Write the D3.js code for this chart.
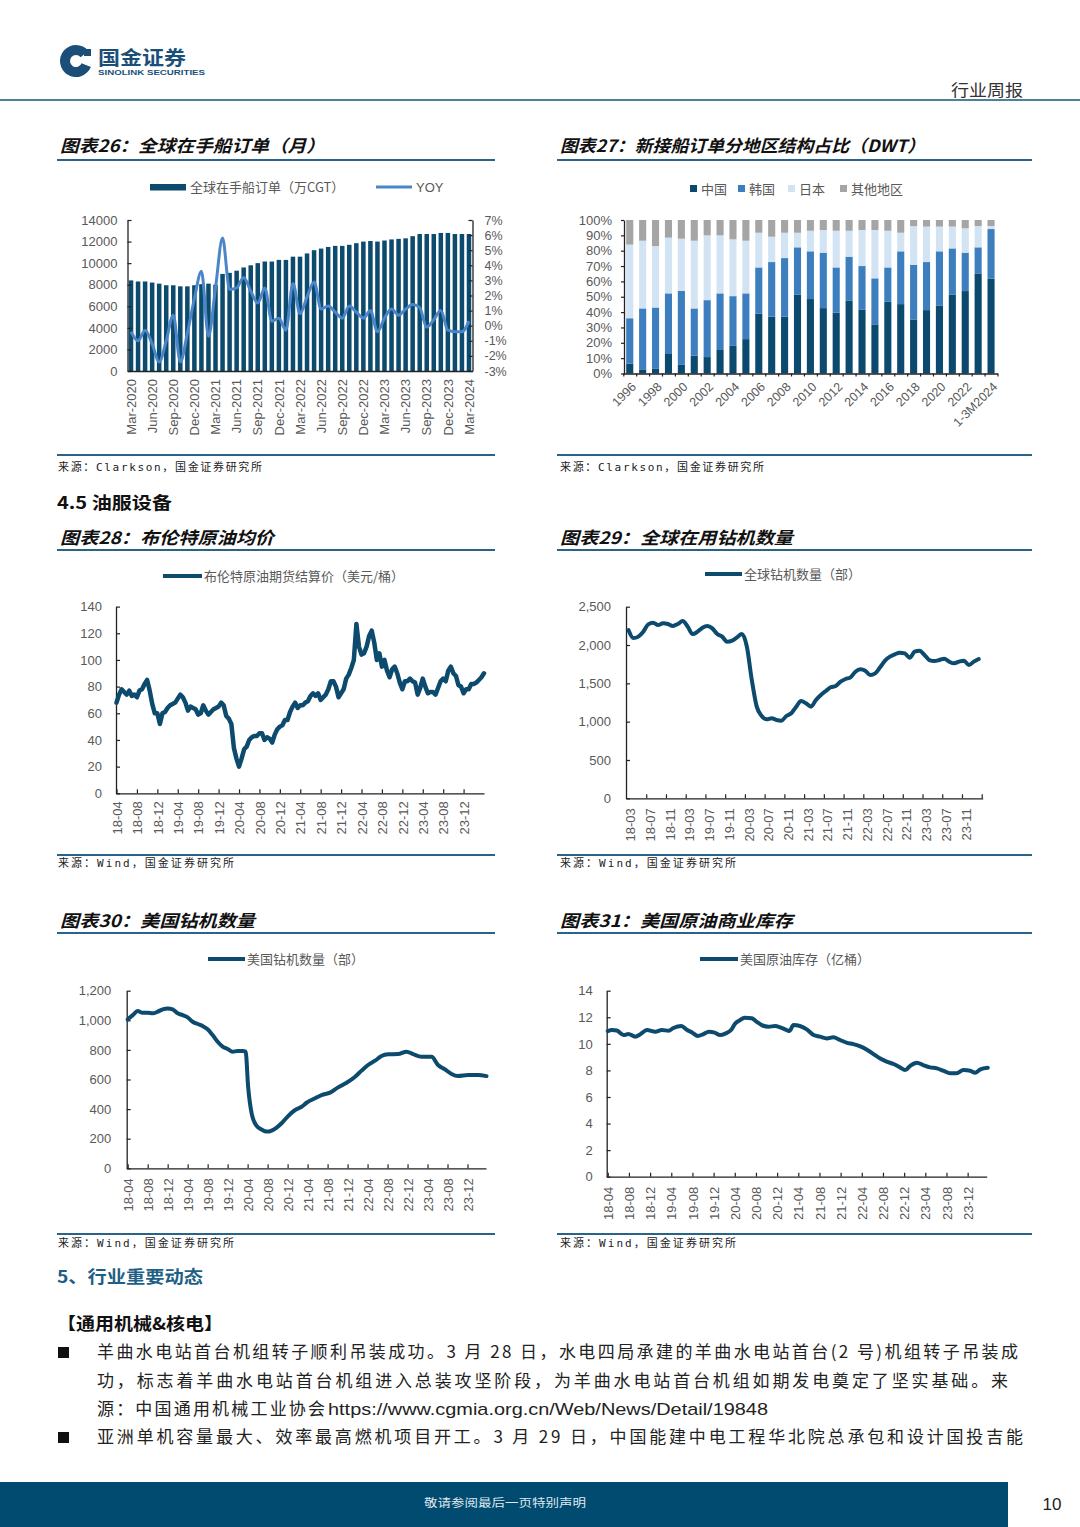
<!DOCTYPE html>
<html><head><meta charset="utf-8">
<script src="https://cdn.jsdelivr.net/npm/d3@7"></script>
<style>
body{margin:0;background:#fff;}
</style></head><body>
<svg id="page" width="1080" height="1527" xmlns="http://www.w3.org/2000/svg"></svg>
<script>
// ---------------- DATA ----------------
// Chart 26: global orderbook (万CGT) and YOY (%), monthly Mar-2020 .. Mar-2024
const orderbook = [8400,8300,8300,8200,8100,7950,7950,7850,7850,7950,8050,8100,8000,
 9000,9100,9300,9600,9800,10000,10150,10150,10300,10300,10600,10600,10900,11200,11350,11500,11600,11600,11700,11850,12000,12050,12000,12100,12200,12250,12300,12500,12700,12700,12700,12800,12800,12700,12700,12700];
const orderYoy = [-0.4,-1.0,-0.3,-1.2,-2.4,-1.0,0.7,-2.4,-0.5,1.8,3.6,-0.7,2.5,5.8,2.4,2.5,3.2,2.3,1.5,2.5,0.3,0.5,-0.3,2.8,0.8,1.9,2.9,1.1,1.3,0.9,0.5,1.3,0.9,0.5,1.0,-0.4,0.5,1.1,0.7,1.1,1.4,1.2,-0.1,0.4,1.0,-0.3,-0.4,-0.4,0.3];
const labels26 = ["Mar-2020","Jun-2020","Sep-2020","Dec-2020","Mar-2021","Jun-2021","Sep-2021","Dec-2021","Mar-2022","Jun-2022","Sep-2022","Dec-2022","Mar-2023","Jun-2023","Sep-2023","Dec-2023","Mar-2024"];
const leftTicks26 = [0,2000,4000,6000,8000,10000,12000,14000];
const rightTicks26 = [-3,-2,-1,0,1,2,3,4,5,6,7];

// Chart 27: new order share by region (%)
const years27 = ["1996","1997","1998","1999","2000","2001","2002","2003","2004","2005","2006","2007","2008","2009","2010","2011","2012","2013","2014","2015","2016","2017","2018","2019","2020","2021","2022","2023","1-3M2024"];
const china27 = [6.5,2.7,3.3,12.7,5.6,11.6,10.7,15.3,18,22.4,38.9,37,37,51.3,48.5,42.6,39.6,47.6,41.5,32,46.7,45.2,35.2,41.3,44.1,51.3,53.7,65.2,61.7];
const korea27 = [29.5,39.7,39.7,39.5,48.3,30.8,37.1,36.9,32.4,29.8,30.2,35.6,38.2,30.9,31.1,36.1,29.5,28.5,28.5,30,22.4,34.4,35.5,31.3,35.5,30.2,25,17,32.4];
const japan27 = [48,44.1,40,36.3,33.9,44.1,42.2,37.8,37,34.3,22.6,16.5,16.5,9.5,13.4,14.8,23.9,16.9,23.5,31.5,23.9,12.1,25.3,23.1,16.1,14.2,15.9,13.9,2];
const other27 = [16,13.5,17,11.5,12.2,13.5,10,10,12.6,13.5,8.3,10.9,8.3,8.3,7,6.5,7,7,6.5,6.5,7,8.3,4,4.3,4.3,4.3,5.4,3.9,3.9];
const labels27 = ["1996","1998","2000","2002","2004","2006","2008","2010","2012","2014","2016","2018","2020","2022","1-3M2024"];
const regions27 = ["中国","韩国","日本","其他地区"];

// Chart 28: Brent (USD/bbl), half-monthly from 2018-04
const brent = [68,74, 78,76, 74,77, 73,74, 72,77, 78,82, 85,77, 67,60, 60,52,
 60,61, 64,66, 67,68, 71,74, 72,68, 62,65, 64,63, 59,60, 66,62, 59,61, 63,64, 65,68,
 66,58, 56,52, 34,26, 20,26, 33,35, 40,42, 43,43, 45,45, 40,42, 41,38, 44,48, 50,51,
 55,55, 61,65, 68,64, 66,66, 68,69, 73,75, 73,75, 70,72, 74,78, 84,84, 80,72, 75,78,
 86,89, 94,100, 127,110, 104,105, 110,118, 122,113, 100,105, 95,100, 92,87, 93,95, 90,83, 78,84,
 84,86, 84,83, 74,79, 86,80, 75,76, 76,74, 79,84, 86,84, 92,95, 90,88, 81,80, 75,78,
 78,82, 82,83, 85,87, 90];
const labels28 = ["18-04","18-08","18-12","19-04","19-08","19-12","20-04","20-08","20-12","21-04","21-08","21-12","22-04","22-08","22-12","23-04","23-08","23-12"];

// Chart 29: global rig count, monthly from 2018-03
const globalRigs = [2196,2090,2110,2174,2270,2290,2260,2283,2274,2248,2274,2313,2240,2143,2174,2226,2248,2217,2143,2109,2043,2057,2100,2143,1978,1543,1196,1074,1030,1044,1022,1013,1074,1109,1196,1270,1239,1196,1283,1348,1400,1448,1465,1522,1557,1578,1652,1683,1665,1609,1630,1709,1796,1848,1878,1900,1891,1835,1913,1926,1870,1804,1791,1804,1822,1783,1761,1783,1796,1739,1783,1817];
const labels29 = ["18-03","18-07","18-11","19-03","19-07","19-11","20-03","20-07","20-11","21-03","21-07","21-11","22-03","22-07","22-11","23-03","23-07","23-11"];

// Chart 30: US rig count (months since 2018-04, value)
const usRigT = [0,1,2,3,4,5,6,7,8,9,10,11,12,13,14,15,16,17,18,19,20,21,22,23,23.6,24.1,24.8,25.8,26.8,27.8,28.8,29.8,30.8,32.1,33.5,34.8,35.8,37.5,38.8,40.5,42.1,43.8,45.5,46.8,48.1,49.5,50.8,52.1,54.1,55.8,57.1,58.8,60.8,62.1,63.5,64.8,66.1,68.1,70.1,71.8];
const usRigV = [1006,1035,1062,1051,1051,1047,1058,1074,1080,1074,1047,1035,1020,990,975,961,939,900,855,822,806,788,792,792,788,551,371,286,262,248,255,275,304,353,394,416,443,473,495,511,547,578,619,660,698,727,759,770,772,788,772,754,754,698,668,637,623,630,630,623];
const labels30 = labels28;

// Chart 31: US commercial crude stocks (亿桶), months since 2018-04
const usStockT = [0,0.8,1.7,3,3.9,5.2,6.1,7.4,9,10.2,11.5,12.4,13.9,15,16,17,18.1,19.1,20.2,21.2,22.3,23.3,24.1,24.8,25.9,27.2,28.1,29.1,30.4,31.6,32.6,33.5,34.3,35.1,36.3,37.6,38.9,40.1,41.4,42.6,43.9,45.1,46.4,47.6,48.9,50.2,51.4,52.7,54,55.2,56.2,57.1,58.4,59.6,60.9,62.2,63.4,64.7,65.9,67.2,68.5,69.4,70.4,71.8];
const usStockV = [10.96,11.04,11.0,10.66,10.74,10.54,10.71,11.04,10.91,11.04,10.99,11.19,11.34,11.04,10.84,10.59,10.74,10.91,10.84,10.66,10.79,11.04,11.54,11.74,11.97,11.92,11.67,11.41,11.29,11.34,11.24,11.09,10.96,11.41,11.34,11.09,10.66,10.54,10.41,10.49,10.29,10.09,9.98,9.83,9.58,9.23,8.91,8.66,8.48,8.23,8.03,8.33,8.58,8.40,8.23,8.15,7.98,7.78,7.78,8.03,7.98,7.83,8.08,8.20];
const labels31 = labels28;

// ---------------- STYLE ----------------
const CJKF = '"Noto Sans CJK SC","Liberation Sans",sans-serif';
const LATF = '"Liberation Sans","Noto Sans CJK SC",Arial,sans-serif';
const MONOF = '"DejaVu Sans Mono","Noto Sans CJK SC",monospace';
const GRAY = "#595959";
const NAVY = "#0c4a6e";
const MIDBLUE = "#4a86c8";
const RULE = "#2a6389";
const svg = d3.select("#page");

function styleAxis(g, fs){
  g.attr("font-family", LATF).attr("font-size", fs);
  g.select(".domain").attr("stroke","#222").attr("stroke-width",1.3);
  g.selectAll(".tick line").attr("stroke","#222").attr("stroke-width",1.2);
  g.selectAll(".tick text").attr("fill",GRAY);
}
function rot90(g, off){
  g.selectAll(".tick text").attr("transform","rotate(-90)").attr("text-anchor","end")
   .attr("x",-off).attr("y",0).attr("dy","0.36em");
}
function hline(x1,x2,y,color,w){
  svg.append("line").attr("x1",x1).attr("x2",x2).attr("y1",y).attr("y2",y).attr("stroke",color).attr("stroke-width",w);
}
function txt(x,y,s,opt){
  const t = svg.append("text").attr("x",x).attr("y",y).text(s)
    .attr("font-family",opt.ff||CJKF).attr("font-size",opt.fs||12).attr("fill",opt.fill||"#222");
  if(opt.fw) t.attr("font-weight",opt.fw);
  if(opt.fst) t.attr("font-style",opt.fst);
  if(opt.anchor) t.attr("text-anchor",opt.anchor);
  if(opt.len) t.attr("textLength",opt.len).attr("lengthAdjust",opt.adj||"spacingAndGlyphs");
  return t;
}
function title(x,y,s,len){ txt(x,y,s,{fs:17,fw:"bold",fst:"italic",len:len,fill:"#111"}); }
function source(x,y,s,len){ txt(x,y,s,{fs:11,ff:MONOF,len:len,adj:"spacing",fill:"#222"}); }
function lineLegend(x1,x2,y,label,color,w){
  hline(x1,x2,y,color,w);
  txt(x2+2,y+4.5,label,{fs:13,fill:GRAY});
}

// ---------------- HEADER ----------------
const logoArc = d3.arc().innerRadius(6).outerRadius(16).startAngle(0.62*Math.PI).endAngle(2.28*Math.PI);
svg.append("path").attr("d",logoArc()).attr("transform","translate(76,61)").attr("fill","#1b4f7a");
svg.append("rect").attr("x",84).attr("y",49).attr("width",7).attr("height",7).attr("fill","#1b4f7a");
txt(98,65,"国金证券",{fs:19,fw:"bold",fill:"#1b4f7a",len:88});
txt(98,75,"SINOLINK SECURITIES",{fs:8,fw:"bold",ff:LATF,fill:"#1b4f7a",len:107});
txt(1023,96,"行业周报",{fs:16,anchor:"end",fill:"#333",len:72});
hline(0,1080,100,"#4d8199",2);

// ---------------- TITLES / RULES / SOURCES ----------------
title(60,152,"图表26：全球在手船订单（月）",265);
title(560,152,"图表27：新接船订单分地区结构占比（DWT）",365);
hline(57,495,160,RULE,2); hline(557,1032,160,RULE,2);
hline(57,495,455,RULE,2); hline(557,1032,455,RULE,2);
source(58,471,"来源：Clarkson，国金证券研究所",204);
source(560,471,"来源：Clarkson，国金证券研究所",204);

txt(57,509,"4.5 油服设备",{fs:17,fw:"bold",len:115,fill:"#111"});

title(60,544,"图表28：布伦特原油均价",214);
title(560,544,"图表29：全球在用钻机数量",233);
hline(57,495,550,RULE,2); hline(557,1032,550,RULE,2);
hline(57,495,855,RULE,2); hline(557,1032,855,RULE,2);
source(58,867,"来源：Wind，国金证券研究所",176);
source(560,867,"来源：Wind，国金证券研究所",176);

title(60,927,"图表30：美国钻机数量",195);
title(560,927,"图表31：美国原油商业库存",233);
hline(57,495,933,RULE,2); hline(557,1032,933,RULE,2);
hline(57,495,1234,RULE,2); hline(557,1032,1234,RULE,2);
source(58,1247,"来源：Wind，国金证券研究所",176);
source(560,1247,"来源：Wind，国金证券研究所",176);

// ---------------- CHART 26 ----------------
(function(){
  const yBot = 371, yTop = 220;
  const xb = d3.scaleBand().domain(d3.range(orderbook.length)).range([127.5,472.5]).paddingInner(0.36).paddingOuter(0.18);
  const yL = d3.scaleLinear().domain([0,14000]).range([yBot,yTop]);
  const yR = d3.scaleLinear().domain([-3,7]).range([yBot,yTop]);
  svg.append("g").selectAll("rect").data(orderbook).join("rect")
    .attr("x",(d,i)=>xb(i)).attr("width",xb.bandwidth())
    .attr("y",d=>yL(d)).attr("height",d=>yBot-yL(d)).attr("fill",NAVY);
  const gl = svg.append("g").attr("transform","translate(127.5,0)")
    .call(d3.axisLeft(yL).tickValues(leftTicks26).tickFormat(d3.format("d")).tickSize(-4).tickSizeOuter(0).tickPadding(10));
  styleAxis(gl,13);
  const gr = svg.append("g").attr("transform","translate(472.5,0)")
    .call(d3.axisRight(yR).tickValues(rightTicks26).tickFormat(d=>d+"%").tickSize(-4).tickSizeOuter(0).tickPadding(12));
  styleAxis(gr,12.5);
  const idx = labels26.map((d,i)=>i*3);
  const gx = svg.append("g").attr("transform",`translate(0,${yBot})`)
    .call(d3.axisBottom(xb).tickValues(idx).tickFormat((d,i)=>labels26[i]).tickSize(0).tickSizeOuter(0));
  styleAxis(gx,13); rot90(gx,8);
  svg.append("path").datum(orderYoy)
    .attr("d",d3.line().x((d,i)=>xb(i)+xb.bandwidth()/2).y(d=>yR(d)).curve(d3.curveMonotoneX))
    .attr("fill","none").attr("stroke",MIDBLUE).attr("stroke-width",3).attr("stroke-linejoin","round");
  // legend
  svg.append("rect").attr("x",150).attr("y",184).attr("width",36).attr("height",6.5).attr("fill",NAVY);
  txt(190,192,"全球在手船订单（万CGT）",{fs:13,fill:GRAY});
  hline(376,412,187,MIDBLUE,3);
  txt(416,192,"YOY",{fs:13,ff:LATF,fill:GRAY});
})();

// ---------------- CHART 27 ----------------
(function(){
  const yBot = 373.5, yTop = 220;
  const colors = ["#0b4a6e","#3d7ebf","#d2e4f4","#a5a5a5"];
  const xb = d3.scaleBand().domain(years27).range([623.3,997.5]).paddingInner(0.45).paddingOuter(0.225);
  const y = d3.scaleLinear().domain([0,100]).range([yBot,yTop]);
  const rows = years27.map((yr,i)=>({yr, china:china27[i], korea:korea27[i], japan:japan27[i], other:other27[i]}));
  const series = d3.stack().keys(["china","korea","japan","other"])(rows);
  svg.append("g").selectAll("g").data(series).join("g").attr("fill",(d,i)=>colors[i])
    .selectAll("rect").data(d=>d).join("rect")
    .attr("x",d=>xb(d.data.yr)).attr("width",xb.bandwidth())
    .attr("y",d=>y(d[1])).attr("height",d=>y(d[0])-y(d[1]));
  const gy = svg.append("g").attr("transform","translate(624,0)")
    .call(d3.axisLeft(y).tickValues(d3.range(0,101,10)).tickFormat(d=>d+"%").tickSize(3).tickSizeOuter(0).tickPadding(9));
  styleAxis(gy,13);
  const xB = d3.scaleLinear().domain([0,years27.length]).range([623.3,997.5]);
  const gt = svg.append("g").attr("transform",`translate(0,${yBot})`)
    .call(d3.axisBottom(xB).tickValues(d3.range(0,years27.length+1)).tickFormat(()=>"").tickSize(3).tickSizeOuter(0));
  styleAxis(gt,12);
  const gx = svg.append("g").attr("transform",`translate(0,${yBot})`)
    .call(d3.axisBottom(xb).tickValues(labels27).tickSize(0));
  gx.select(".domain").remove();
  styleAxis(gx,12.5);
  gx.selectAll(".tick text").attr("text-anchor","end").attr("x",0).attr("y",0).attr("dy","0.35em")
    .attr("transform","translate(4,11) rotate(-45)");
  // legend
  const lx = [690,738,788,840];
  regions27.forEach((r,i)=>{
    svg.append("rect").attr("x",lx[i]).attr("y",185).attr("width",7).attr("height",7).attr("fill",colors[i]);
    txt(lx[i]+11,193.5,r,{fs:13,fill:GRAY});
  });
})();

// ---------------- LINE CHART HELPER ----------------
function lineChart(o){
  const x = d3.scaleLinear().domain(o.dom).range([o.x0,o.x1]);
  const y = d3.scaleLinear().domain([0,o.ymax]).range([o.yBot,o.yTop]);
  const gy = svg.append("g").attr("transform",`translate(${o.x0},0)`)
    .call(d3.axisLeft(y).tickValues(o.yticks).tickFormat(o.yfmt).tickSize(-4).tickSizeOuter(0).tickPadding(o.ypad));
  styleAxis(gy,13);
  const gt = svg.append("g").attr("transform",`translate(0,${o.yBot})`)
    .call(d3.axisBottom(x).tickValues(o.tickT).tickFormat(()=>"").tickSize(-4).tickSizeOuter(0));
  styleAxis(gt,12);
  const gx = svg.append("g").attr("transform",`translate(0,${o.yBot})`)
    .call(d3.axisBottom(x).tickValues(o.labT).tickFormat((d,i)=>o.labels[i]).tickSize(0));
  gx.select(".domain").remove();
  styleAxis(gx,13); rot90(gx,o.labOff);
  svg.append("path").datum(o.vs)
    .attr("d",d3.line().x((d,i)=>x(o.ts[i])).y(d=>y(d)).curve(o.curve||d3.curveMonotoneX))
    .attr("fill","none").attr("stroke",NAVY).attr("stroke-width",o.sw||4).attr("stroke-linejoin","round").attr("stroke-linecap","round");
}

// Chart 28
lineChart({x0:116,x1:484,dom:[-0.1,72],yBot:793.3,yTop:606.6,ymax:140,
  yticks:d3.range(0,141,20),yfmt:d3.format("d"),ypad:14,
  tickT:labels28.map((d,i)=>i*4),labT:labels28.map((d,i)=>i*4),labels:labels28,labOff:8,
  ts:brent.map((d,i)=>i*0.5),vs:brent,curve:d3.curveLinear,sw:4.5});
lineLegend(163,202,576,"布伦特原油期货结算价（美元/桶）",NAVY,4);

// Chart 29
lineChart({x0:626,x1:982.7,dom:[-0.8,71.5],yBot:798.3,yTop:606.7,ymax:2500,
  yticks:d3.range(0,2501,500),yfmt:d3.format(","),ypad:15,
  tickT:labels29.map((d,i)=>i*4+3.3),labT:labels29.map((d,i)=>i*4),labels:labels29,labOff:10,
  ts:globalRigs.map((d,i)=>i-0.3),vs:globalRigs});
lineLegend(705,742,574,"全球钻机数量（部）",NAVY,4);

// Chart 30
lineChart({x0:126.7,x1:486,dom:[-0.2,71.7],yBot:1168.3,yTop:990.7,ymax:1200,
  yticks:d3.range(0,1201,200),yfmt:d3.format(","),ypad:15.5,
  tickT:labels30.map((d,i)=>i*4),labT:labels30.map((d,i)=>i*4),labels:labels30,labOff:10,
  ts:usRigT,vs:usRigV});
lineLegend(208,245,959,"美国钻机数量（部）",NAVY,4);

// Chart 31
lineChart({x0:606.7,x1:986.7,dom:[-0.2,71.6],yBot:1176.7,yTop:990.7,ymax:14,
  yticks:d3.range(0,15,2),yfmt:d3.format("d"),ypad:14,
  tickT:labels31.map((d,i)=>i*4),labT:labels31.map((d,i)=>i*4),labels:labels31,labOff:10,
  ts:usStockT,vs:usStockV});
lineLegend(700,738,959,"美国原油库存（亿桶）",NAVY,4);

// ---------------- TEXT SECTION ----------------
txt(57,1283,"5、行业重要动态",{fs:17,fw:"bold",fill:"#1f5f86",len:146});
txt(57,1330,"【通用机械&核电】",{fs:17,fw:"bold",fill:"#111",len:166});
svg.append("rect").attr("x",58).attr("y",1347).attr("width",11).attr("height",11).attr("fill","#111");
svg.append("rect").attr("x",58).attr("y",1432).attr("width",11).attr("height",11).attr("fill","#111");
const bodyOpt = {fs:17,fill:"#222",adj:"spacing"};
txt(97,1358,"羊曲水电站首台机组转子顺利吊装成功。3 月 28 日，水电四局承建的羊曲水电站首台(2 号)机组转子吊装成",Object.assign({len:921},bodyOpt));
txt(97,1387,"功，标志着羊曲水电站首台机组进入总装攻坚阶段，为羊曲水电站首台机组如期发电奠定了坚实基础。来",Object.assign({len:911},bodyOpt));
txt(97,1415,"源：中国通用机械工业协会",Object.assign({len:228},bodyOpt));
txt(328,1415,"https://www.cgmia.org.cn/Web/News/Detail/19848",{fs:17,ff:LATF,fill:"#222",len:440,adj:"spacingAndGlyphs"});
txt(97,1443,"亚洲单机容量最大、效率最高燃机项目开工。3 月 29 日，中国能建中电工程华北院总承包和设计国投吉能",Object.assign({len:926},bodyOpt));

// ---------------- FOOTER ----------------
svg.append("rect").attr("x",0).attr("y",1482).attr("width",1008).attr("height",45).attr("fill","#004b6f");
txt(505,1507,"敬请参阅最后一页特别声明",{fs:11,anchor:"middle",fill:"#dfe7ee",len:162});
txt(1052,1510,"10",{fs:17,ff:LATF,anchor:"middle",fill:"#222"});
</script>
</body></html>
